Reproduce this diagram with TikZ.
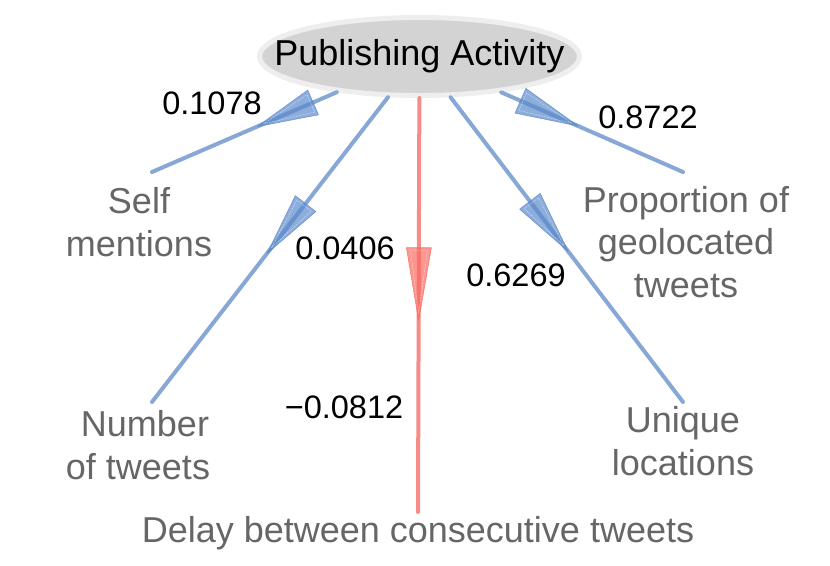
\documentclass[tikz,border=0pt]{standalone}
\usepackage{fontspec}
\setmainfont{Liberation Sans}
\usetikzlibrary{calc,shapes.geometric}
\definecolor{edgeblue}{RGB}{135,168,214}
\definecolor{headblue}{RGB}{92,138,204}
\definecolor{edgered}{RGB}{245,140,135}
\definecolor{headred}{RGB}{250,105,98}
\definecolor{labgray}{RGB}{102,102,102}
\definecolor{ellfill}{RGB}{211,211,211}
\definecolor{ellline}{RGB}{238,238,238}
\newcommand\midarrow[6]{%
  \path ($(#1)!#3!(#2)$) coordinate (tip) ($(tip)!#4!(#1)$) coordinate (base);
  \filldraw[draw=#6, fill=#6, fill opacity=0.7, draw opacity=0.8, line width=0.6pt, line join=round]
    (tip) -- ($(base)!#5!90:(tip)$) -- ($(base)!#5!-90:(tip)$) -- cycle;
  \path ($(tip)!7pt!(base)$) coordinate (itip) ($(base)!2.5pt!(tip)$) coordinate (ibase);
  \draw[white, dashed, dash pattern=on 2pt off 1pt, line width=0.4pt, opacity=0.6]
    (itip) -- ($(ibase)!#5-4pt!90:(itip)$) -- ($(ibase)!#5-4pt!-90:(itip)$) -- cycle;
}
\tikzset{
  leaf/.style={text=labgray, font=\fontsize{36}{42.5}\selectfont, align=center, inner sep=0pt},
  weight/.style={text=black, font=\fontsize{32.5}{38}\selectfont, inner sep=0pt},
  bedge/.style={draw=edgeblue, line width=4pt, line cap=round},
  redge/.style={draw=edgered, line width=4pt, line cap=round},
}
\begin{document}
\begin{tikzpicture}[x=1pt,y=-1pt]
\useasboundingbox (0,0) rectangle (830,565);
\node[ellipse, draw=ellline, line width=5pt, fill=ellfill, minimum width=320pt, minimum height=78pt, inner sep=0pt,
      font=\fontsize{36}{42}\selectfont] (pa) at (419.5,56.5) {\makebox[0pt]{Publishing Activity}};
\coordinate (e1) at (152,172);
\coordinate (e2) at (152,402);
\coordinate (e3) at (418,512);
\coordinate (e4) at (683,402);
\coordinate (e5) at (683,172);
\coordinate (c) at (419.5,56.5);
\draw[bedge] (pa) -- (e1);
\draw[bedge] (pa) -- (e2);
\draw[redge] (pa) -- (e3);
\draw[bedge] (pa) -- (e4);
\draw[bedge] (pa) -- (e5);
\midarrow{c}{e1}{0.607}{61pt}{13.5pt}{headblue}
\midarrow{c}{e2}{0.57}{63pt}{13pt}{headblue}
\midarrow{c}{e3}{0.58}{73pt}{12.5pt}{headred}
\midarrow{c}{e4}{0.564}{63pt}{13pt}{headblue}
\midarrow{c}{e5}{0.602}{63pt}{13.5pt}{headblue}
\node[leaf] (l1) at (139,222) {Self\\mentions};
\node[leaf] (l2) at (138,445) {\hspace*{14pt}Number\\of tweets};
\node[leaf] (l3) at (418,533) {Delay between consecutive tweets};
\node[leaf] (l4) at (683,441) {Unique\\locations};
\node[leaf] (l5) at (686,242) {Proportion of\\geolocated\\tweets};
\node[weight] (w1) at (212,103) {0.1078};
\node[weight] (w2) at (345,248) {0.0406};
\node[weight] (w3) at (344,407) {−0.0812};
\node[weight] (w4) at (516,275) {0.6269};
\node[weight] (w5) at (648,117) {0.8722};
\end{tikzpicture}
\end{document}
